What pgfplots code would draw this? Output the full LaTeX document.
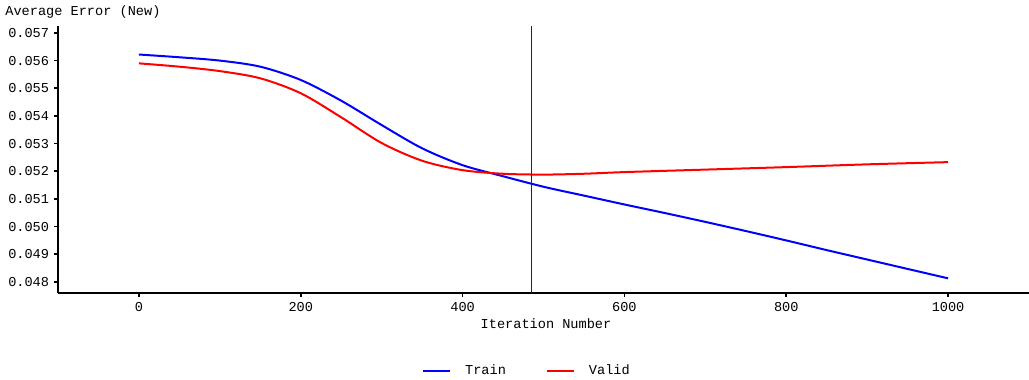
\documentclass[border=0pt]{standalone}
\usepackage{pgfplots}
\pgfplotsset{compat=1.18}
\usepackage{fontspec}
\setmainfont{Liberation Mono}
\pgfplotstableread{
x y
0 0.05622
50 0.05612
100 0.05600
150 0.05578
200 0.05530
250 0.05455
300 0.05367
350 0.05283
400 0.05222
450 0.05182
500 0.05144
550 0.05112
600 0.05080
650 0.05049
700 0.05017
750 0.04984
800 0.04950
850 0.04915
900 0.04881
950 0.04847
1000 0.04813
}\train
\pgfplotstableread{
x y
0 0.05590
50 0.05578
100 0.05562
150 0.05536
200 0.05482
250 0.05395
300 0.05302
350 0.05238
400 0.05204
450 0.05191
500 0.05188
550 0.05191
600 0.05197
700 0.05206
800 0.05215
900 0.05225
1000 0.05233
}\valid
\begin{document}
\fontsize{6.8}{8}\selectfont
\begin{tikzpicture}
\useasboundingbox (0,0) rectangle (514.5pt,190pt);
\node[anchor=west,inner sep=0pt] at (2.5pt,184pt) {Average Error (New)};
\begin{axis}[
  at={(29pt,43.5pt)}, anchor=south west,
  scale only axis, width=485.5pt, height=133.5pt,
  xmin=-100, xmax=1100, ymin=0.0476, ymax=0.05725,
  axis x line=bottom, axis y line=left,
  axis line style={-, line width=1pt},
  tick align=outside, major tick length=2pt,
  tick style={black, line width=0.8pt},
  xtick={0,200,400,600,800,1000},
  ytick={0.048,0.049,0.050,0.051,0.052,0.053,0.054,0.055,0.056,0.057},
  scaled y ticks=false, scaled x ticks=false,
  yticklabel style={/pgf/number format/.cd, fixed, fixed zerofill, precision=3, assume math mode=true},
  xticklabel style={/pgf/number format/.cd, assume math mode=true, 1000 sep={}},
  ticklabel style={font=\fontsize{6.8}{8}\selectfont},
  xlabel={Iteration Number},
  xlabel style={font=\fontsize{6.8}{8}\selectfont, at={(axis description cs:0.5026,-0.116)}, anchor=center},
  legend style={draw=none, fill=none, at={(axis description cs:0.484,-0.292)}, anchor=center, legend columns=2,
    font=\fontsize{6.8}{8}\selectfont,
    /tikz/every odd column/.append style={column sep=5pt},
    /tikz/every even column/.append style={column sep=18pt}},
  legend cell align=left,
  legend image code/.code={\draw[#1, line width=1pt] (0pt,0pt) -- (13.5pt,0pt);},
  clip=false,
]
\addplot[blue, line width=1pt, smooth] table[x=x,y=y]{\train};
\addlegendentry{Train}
\addplot[red, line width=1pt, smooth] table[x=x,y=y]{\valid};
\addlegendentry{Valid}
\addplot[black!85, line width=0.8pt, forget plot] coordinates {(485,0.0476) (485,0.05725)};
\end{axis}
\end{tikzpicture}
\end{document}
